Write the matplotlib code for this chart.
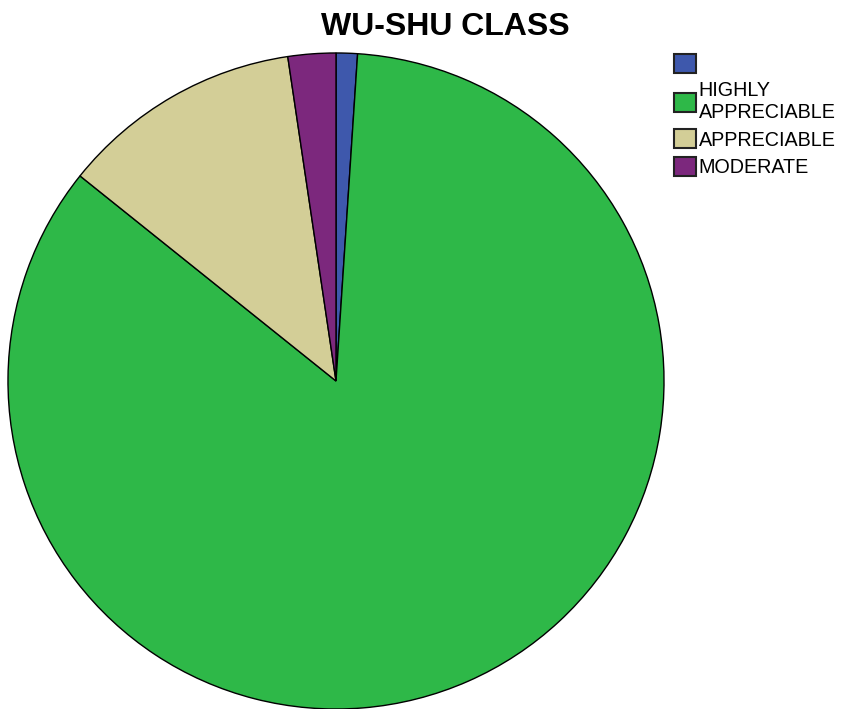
import matplotlib.pyplot as plt
from matplotlib.patches import Patch

labels = ["", "HIGHLY\nAPPRECIABLE", "APPRECIABLE", "MODERATE"]
values = [1.05, 84.7, 11.9, 2.35]
colors = ["#3E58AC", "#2EB848", "#D3CE97", "#7C287D"]

plt.rcParams["font.family"] = ["Liberation Sans", "DejaVu Sans"]

W, H = 842, 709
fig = plt.figure(figsize=(W / 100, H / 100), dpi=100)

# pie axes: centre (336, 381) px, radius ~329 px
ax = fig.add_axes([7 / W, -1 / H, 658 / W, 658 / H])
ax.pie(values, colors=colors, startangle=90, counterclock=False,
       wedgeprops={"edgecolor": "black", "linewidth": 1.0})
ax.set_xlim(-1.003, 1.003)
ax.set_ylim(-1.003, 1.003)
ax.set_aspect("equal")
ax.axis("off")

fig.text(445 / W, 1 - 27 / H, "WU-SHU CLASS", ha="center", va="center",
         fontsize=23, fontweight="bold")

handles = [Patch(facecolor=c, edgecolor="#222222", linewidth=1.5) for c in colors]
fig.legend(handles, labels, loc="upper left", bbox_to_anchor=(674 / W, 1 - 54 / H),
           frameon=False, fontsize=14.2, handlelength=1.1, handleheight=1.1,
           handletextpad=0.15, labelspacing=0.36, borderpad=0, borderaxespad=0)

fig.savefig("out.png", dpi=100)
